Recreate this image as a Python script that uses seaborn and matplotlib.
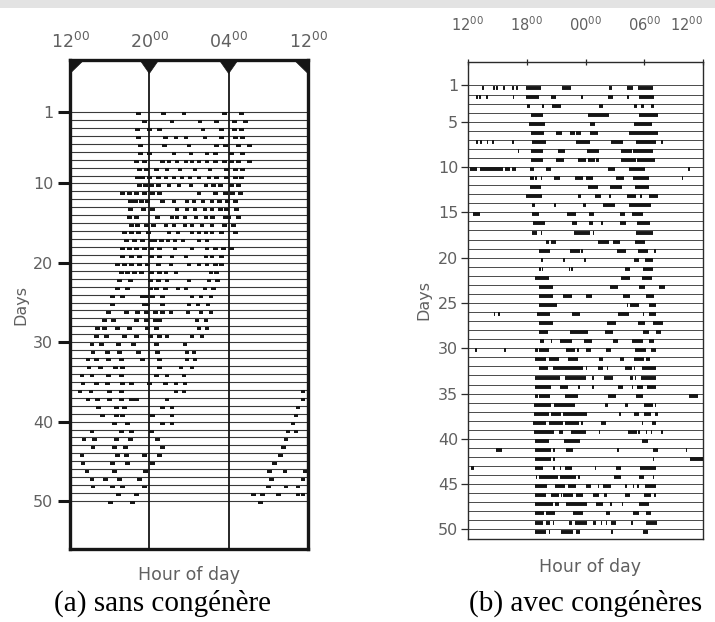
import matplotlib
matplotlib.use("Agg")
import matplotlib.pyplot as plt
from matplotlib.patches import Rectangle, Polygon
import numpy as np
import pandas as pd
import seaborn as sns

# ---------------- data ----------------
# hours are measured from 12:00 (0 = 12:00, 8 = 20:00, 12 = 00:00, 24 = 12:00 next day)
solo_ticks = [0, 8, 16, 24]
solo_tick_labels = ["12", "20", "04", "12"]
solo_day_ticks = [1, 10, 20, 30, 40, 50]

group_ticks = [0, 6, 12, 18, 24]
group_tick_labels = ["12", "18", "00", "06", "12"]
group_day_ticks = [1, 5, 10, 15, 20, 25, 30, 35, 40, 45, 50]

# (a) sans congénère : activity marks per day (centre hour)
solo_rows = [
    [6.9, 9.4, 11.5, 15.6, 17.3],
    [7.5, 10.3, 13.1, 14.8, 16.6, 17.7],
    [6.8, 8.0, 9.0, 13.4, 15.3, 16.6, 17.3],
    [6.9, 9.6, 10.7, 11.7, 13.6, 15.3, 16.7, 17.4],
    [7.1, 9.5, 12.0, 14.8, 15.7, 17.0, 18.1],
    [7.1, 8.0, 10.5, 12.2, 13.8, 14.7, 16.3, 17.4],
    [6.7, 7.5, 9.3, 10.0, 10.8, 11.7, 12.3, 13.0, 13.8, 14.7, 15.6, 16.3, 17.0, 18.1],
    [7.0, 7.7, 8.7, 9.8, 11.1, 12.6, 14.1, 15.8, 16.7, 17.4],
    [6.8, 7.3, 8.0, 8.9, 9.7, 10.5, 11.3, 12.1, 13.0, 14.0, 14.8, 15.8, 16.7, 17.3],
    [7.0, 7.6, 8.2, 8.9, 10.0, 11.0, 12.2, 13.7, 14.5, 15.2, 16.3, 17.0],
    [5.3, 6.0, 6.7, 7.5, 8.3, 9.0, 13.0, 14.7, 15.7, 16.4, 17.2],
    [6.1, 6.6, 7.2, 7.8, 9.3, 10.5, 11.8, 12.5, 13.4, 14.3, 15.1, 15.9, 16.7],
    [6.1, 7.4, 8.3, 10.8, 11.8, 12.6, 13.6, 14.3, 15.2, 15.8, 16.8],
    [6.0, 6.7, 8.8, 10.3, 10.8, 11.6, 12.7, 13.7, 14.4, 15.7, 16.0, 17.0],
    [6.2, 6.8, 7.7, 8.4, 9.7, 10.5, 11.6, 12.3, 13.3, 14.3, 15.6, 16.5],
    [5.5, 6.2, 6.9, 7.9, 10.0, 10.9, 12.3, 13.0, 13.7, 14.3, 15.3, 16.7],
    [5.7, 6.5, 7.3, 8.2, 8.5, 9.2, 9.9, 10.6, 11.4, 13.0, 13.8],
    [5.3, 6.0, 6.7, 7.5, 8.2, 9.0, 10.6, 12.3, 13.8, 14.7, 15.5, 16.3],
    [5.3, 6.2, 7.0, 8.2, 9.0, 10.3, 11.7, 13.7, 14.3, 15.3],
    [4.8, 5.5, 6.2, 7.0, 7.8, 8.9, 10.2, 12.0, 13.0, 13.8, 14.7, 15.3],
    [5.2, 5.8, 6.5, 7.2, 8.2, 9.0, 9.7, 10.7, 14.2, 14.8],
    [5.0, 6.1, 8.1, 8.9, 9.8, 12.0, 14.0, 14.9],
    [4.8, 5.8, 8.1, 8.7, 9.6, 10.9, 11.7, 13.6, 14.5],
    [4.3, 5.3, 7.3, 7.7, 8.3, 9.3, 12.3, 13.2, 14.2],
    [4.3, 7.5, 7.8, 9.3, 12.0, 12.9, 13.9],
    [3.9, 5.7, 6.8, 7.7, 8.6, 9.3, 10.2, 11.9, 13.2, 14.2],
    [3.5, 4.4, 6.7, 7.7, 8.6, 9.0, 12.8, 13.7],
    [2.8, 3.5, 4.8, 6.0, 7.8, 8.7, 13.0, 13.8],
    [2.7, 3.7, 5.5, 6.7, 8.1, 9.0, 9.8, 12.3, 13.3],
    [2.2, 3.2, 4.9, 6.4, 8.7, 11.6],
    [2.3, 3.8, 5.0, 6.9, 8.8, 11.8, 12.5],
    [1.8, 2.7, 3.9, 5.2, 7.3, 9.0, 11.8, 12.6],
    [1.9, 3.1, 4.6, 5.3, 9.0, 11.2, 12.3],
    [1.2, 2.2, 3.9, 5.2, 8.7, 9.8, 11.5],
    [1.3, 2.7, 3.8, 5.3, 6.2, 8.0, 9.6, 10.7, 11.6],
    [1.0, 2.1, 4.0, 5.2, 10.7, 11.5, 23.5],
    [1.8, 2.8, 4.0, 5.2, 6.2, 6.7, 9.8, 23.5],
    [2.9, 4.7, 5.5, 9.3, 10.3, 23.0],
    [3.3, 4.7, 5.3, 8.3, 10.3, 22.8],
    [4.5, 5.8, 9.3, 10.3, 22.5],
    [2.2, 5.2, 6.2, 8.2, 22.0, 22.8],
    [1.4, 2.5, 4.7, 6.1, 8.8, 21.8],
    [2.3, 4.5, 5.6, 9.3, 21.5],
    [1.2, 4.8, 5.7, 7.5, 9.0, 21.2],
    [1.3, 4.3, 5.8, 8.3, 20.6],
    [1.7, 4.5, 7.6, 20.1, 21.7, 23.7],
    [2.2, 3.6, 5.0, 7.0, 20.3, 23.5],
    [2.3, 4.3, 5.3, 7.5, 20.0, 21.8, 23.0],
    [4.9, 6.7, 18.5, 19.4, 21.0, 23.0, 23.5],
    [4.1, 6.3, 19.2],
]

# (b) avec congénères : activity bouts per day (start hour, end hour)
group_rows = [
    [(1.4, 1.6), (2.6, 2.8), (2.9, 3.05), (3.6, 3.8), (4.5, 4.7), (4.9, 5.1), (5.9, 7.5), (9.6, 10.5), (14.4, 14.7), (16.2, 16.8), (17.4, 18.9)],
    [(0.8, 1.0), (1.1, 1.3), (1.85, 2.0), (4.55, 4.7), (5.95, 7.3), (8.5, 9.0), (11.5, 11.7), (14.3, 14.8), (16.2, 16.4), (17.5, 19.0)],
    [(6.0, 6.3), (7.6, 7.75), (8.6, 9.5), (13.4, 13.8), (17.0, 17.3), (17.7, 18.0), (18.7, 19.0)],
    [(6.4, 7.7), (12.3, 14.4), (17.5, 19.4)],
    [(6.2, 7.9), (12.5, 13.0), (17.0, 18.8)],
    [(6.4, 7.8), (9.0, 9.6), (10.4, 10.9), (11.0, 11.5), (12.5, 13.3), (16.4, 19.4)],
    [(0.8, 1.0), (1.2, 1.4), (1.9, 2.05), (2.5, 2.65), (4.5, 4.7), (6.5, 8.0), (11.0, 12.5), (14.6, 15.8), (17.2, 19.2), (19.7, 19.9)],
    [(5.1, 5.25), (6.4, 7.7), (9.2, 9.9), (12.2, 13.4), (15.6, 16.7), (16.8, 18.9)],
    [(6.4, 7.7), (9.0, 9.8), (11.2, 12.1), (12.3, 13.0), (13.1, 13.4), (15.6, 17.2), (17.3, 19.1)],
    [(0.25, 0.9), (1.25, 3.6), (3.75, 4.3), (4.5, 4.9), (6.3, 6.7), (8.0, 8.5), (14.3, 15.0), (16.4, 18.1), (22.5, 22.65)],
    [(6.3, 6.7), (6.8, 7.0), (7.45, 7.6), (8.8, 9.4), (10.9, 11.7), (12.1, 12.8), (15.1, 15.9), (16.9, 18.5), (21.85, 22.0)],
    [(6.3, 7.5), (12.3, 13.3), (14.5, 15.7), (17.1, 18.5)],
    [(5.9, 7.6), (11.2, 11.5), (13.0, 13.6), (14.4, 14.6), (16.2, 17.2), (17.6, 17.8), (18.5, 19.4)],
    [(6.5, 6.8), (8.8, 8.95), (11.7, 12.1), (13.8, 15.0), (16.4, 18.7)],
    [(0.5, 1.25), (6.5, 7.3), (10.1, 11.0), (12.4, 12.9), (15.5, 16.0), (16.7, 17.9)],
    [(6.6, 7.9), (10.6, 11.1), (12.4, 12.8), (13.6, 13.8), (15.5, 16.1), (17.3, 18.6)],
    [(6.5, 7.0), (7.45, 7.6), (10.8, 12.5), (12.75, 12.9), (17.2, 18.9)],
    [(8.0, 8.3), (8.5, 9.0), (13.3, 14.4), (14.8, 15.5), (17.1, 18.1)],
    [(7.2, 8.4), (10.4, 11.4), (11.55, 11.7), (15.2, 16.1), (17.4, 18.4), (19.0, 19.15)],
    [(7.5, 7.7), (9.7, 9.9), (11.8, 12.0), (17.0, 17.5), (18.1, 18.9)],
    [(7.25, 7.45), (7.55, 7.7), (10.3, 10.45), (10.55, 10.7), (16.0, 16.5), (17.9, 18.9)],
    [(6.8, 8.3), (15.6, 16.5), (17.8, 18.8)],
    [(7.25, 8.7), (14.5, 15.3), (17.5, 18.1), (19.5, 20.1)],
    [(7.25, 8.7), (9.7, 10.6), (12.1, 12.7), (15.8, 16.5), (18.2, 19.0)],
    [(7.25, 9.1), (16.2, 16.35), (16.5, 17.5), (18.5, 19.2)],
    [(2.65, 2.8), (3.1, 3.25), (7.0, 8.4), (10.6, 11.4), (15.3, 16.4), (17.85, 18.0), (18.5, 19.2)],
    [(7.3, 8.7), (14.2, 15.1), (17.4, 18.1), (18.9, 19.9)],
    [(7.3, 8.2), (10.4, 12.3), (14.0, 14.8), (17.9, 18.5), (19.2, 19.7)],
    [(7.4, 7.8), (8.45, 8.6), (9.4, 10.6), (11.8, 12.7), (14.8, 15.3), (16.7, 17.9), (18.5, 19.0)],
    [(0.75, 0.95), (3.7, 3.85), (6.8, 7.1), (7.3, 8.3), (10.0, 10.9), (11.15, 11.3), (12.1, 12.6), (14.1, 14.6), (17.1, 18.2), (18.7, 19.2)],
    [(6.8, 8.0), (8.3, 9.3), (10.2, 11.2), (13.4, 13.8), (15.5, 15.9), (17.0, 18.0), (18.2, 18.6)],
    [(7.25, 8.2), (8.7, 11.7), (12.0, 12.15), (13.3, 13.8), (14.15, 14.3), (16.0, 16.7), (16.95, 17.1), (17.8, 19.2)],
    [(6.8, 9.4), (9.9, 12.0), (12.7, 12.85), (13.9, 14.8), (16.5, 16.8), (17.05, 17.2), (17.7, 19.15)],
    [(6.8, 8.5), (9.35, 10.2), (11.25, 11.4), (12.7, 12.85), (15.3, 15.8), (16.75, 16.9), (17.25, 17.9), (18.3, 19.15)],
    [(6.8, 7.1), (7.3, 8.4), (9.9, 11.2), (14.3, 15.1), (17.2, 17.9), (22.6, 23.5)],
    [(6.7, 8.5), (8.75, 10.9), (13.95, 14.3), (16.0, 16.3), (18.0, 18.9), (19.1, 19.25)],
    [(6.7, 8.3), (8.5, 9.5), (9.7, 12.2), (15.45, 15.6), (17.0, 17.45), (18.0, 18.7), (19.05, 19.4)],
    [(6.6, 8.0), (8.3, 9.7), (9.9, 11.3), (11.55, 11.7), (13.6, 14.1), (17.75, 17.9), (18.8, 19.2)],
    [(6.7, 8.8), (9.3, 9.7), (10.5, 12.1), (13.35, 13.5), (16.3, 17.25), (17.4, 17.55), (18.15, 18.3), (18.65, 18.8), (19.75, 19.9)],
    [(6.8, 8.3), (9.8, 11.4), (17.75, 18.4)],
    [(2.9, 3.5), (6.8, 8.5), (8.7, 8.85), (10.0, 10.7), (15.25, 15.45), (18.9, 19.4), (22.25, 22.4)],
    [(6.8, 8.5), (8.7, 8.85), (18.85, 19.0), (22.7, 24.0)],
    [(0.3, 0.6), (6.8, 7.7), (8.7, 8.85), (9.35, 9.5), (9.9, 10.6), (12.95, 13.1), (15.1, 15.6), (17.6, 19.15)],
    [(6.9, 7.05), (7.25, 9.2), (9.35, 11.05), (11.25, 11.4), (14.95, 15.65), (17.5, 18.0), (18.85, 19.0)],
    [(6.8, 8.1), (8.85, 9.9), (10.2, 11.0), (12.1, 12.6), (13.25, 13.4), (13.8, 14.6), (16.05, 16.2), (16.8, 16.95), (17.3, 17.45), (18.1, 19.15)],
    [(6.8, 8.0), (8.5, 9.3), (9.45, 9.6), (9.7, 10.7), (11.0, 11.7), (12.75, 13.4), (13.85, 14.2), (16.0, 16.5), (18.0, 18.7), (19.0, 19.15)],
    [(6.8, 8.7), (8.85, 9.3), (10.0, 12.2), (13.1, 13.8), (14.55, 14.7), (15.7, 15.85), (17.5, 18.5)],
    [(6.8, 7.8), (8.0, 8.85), (10.7, 11.7), (14.1, 14.5), (16.8, 17.5), (18.2, 18.7)],
    [(6.8, 7.7), (8.0, 8.4), (8.65, 8.8), (10.35, 10.6), (10.9, 12.2), (12.75, 13.1), (13.55, 13.7), (14.05, 14.2), (14.6, 15.1), (16.65, 16.8), (18.2, 19.3)],
    [(6.8, 8.0), (8.25, 8.4), (9.5, 10.7), (11.0, 11.4), (14.65, 14.8), (17.85, 18.4)],
]

# ---------------- tidy tables ----------------
solo_df = pd.DataFrame(
    [(d + 1, h) for d, row in enumerate(solo_rows) for h in row], columns=["day", "hour"]
)
group_df = pd.DataFrame(
    [(d + 1, s, e) for d, row in enumerate(group_rows) for s, e in row],
    columns=["day", "start", "end"],
)

# ---------------- style ----------------
sns.set_theme(style="white")
plt.rcParams["font.family"] = ["DejaVu Sans"]
plt.rcParams["mathtext.fontset"] = "dejavusans"
GREY_TXT = "#606060"
INK = "#161616"

W, H = 715, 622
fig = plt.figure(figsize=(W / 100, H / 100), dpi=100)
fig.patch.set_facecolor("white")
fig.patches.append(Rectangle((0, 1 - 8 / H), 1, 8 / H, transform=fig.transFigure,
                             facecolor="#e3e3e3", edgecolor="none", zorder=0))


def fx(px):
    return px / W


def fy(py):
    return 1 - py / H


# ---------------- (a) left panel ----------------
axL = fig.add_axes([fx(70), fy(549), fx(308) - fx(70), fy(60) - fy(549)])
axL.set_xlim(0, 24)
axL.set_ylim(56.05, -5.55)
axL.set_facecolor("white")
for sp in axL.spines.values():
    sp.set_linewidth(2.4)
    sp.set_color(INK)
    sp.set_visible(True)

axL.hlines(np.arange(1, len(solo_rows) + 1), 0, 24, color="#3a3a3a", lw=0.8, zorder=1)
axL.vlines(solo_ticks[1:-1], -5.55, 56.05, color=INK, lw=1.3, zorder=2)

rect_marker = [(-1, -0.65), (1, -0.65), (1, 0.65), (-1, 0.65), (-1, -0.65)]
solo_df["ymark"] = solo_df["day"] + 0.24
sns.scatterplot(data=solo_df, x="hour", y="ymark", marker=rect_marker, s=11,
                color=INK, edgecolor="none", linewidth=0, ax=axL, zorder=3, legend=False)

# triangular markers hanging from the top frame
top = -5.55
for h in solo_ticks:
    if h == 0:
        pts = [(0, top), (1.4, top), (0, top + 1.7)]
    elif h == 24:
        pts = [(24, top), (22.6, top), (24, top + 1.7)]
    else:
        pts = [(h - 0.95, top), (h + 0.95, top), (h, top + 1.7)]
    axL.add_patch(Polygon(pts, closed=True, facecolor=INK, edgecolor=INK, lw=0.5, zorder=4))

axL.xaxis.tick_top()
axL.set_xticks(solo_ticks)
axL.set_xticklabels([rf"${t}^{{00}}$" for t in solo_tick_labels])
axL.tick_params(axis="x", which="both", length=0, pad=6, labelsize=12.5, labelcolor=GREY_TXT,
                top=True, bottom=False, labeltop=True, labelbottom=False)
axL.set_yticks(solo_day_ticks)
axL.set_yticklabels([str(d) for d in solo_day_ticks])
axL.tick_params(axis="y", which="both", left=True, direction="out", length=9, width=2.2,
                color=INK, pad=3, labelsize=11.5, labelcolor=GREY_TXT)
axL.set_xlabel("")
axL.set_ylabel("")

# ---------------- (b) right panel ----------------
axR = fig.add_axes([fx(468), fy(539), fx(703) - fx(468), fy(62) - fy(539)])
axR.set_xlim(0, 24)
axR.set_ylim(51.05, -1.59)
axR.set_facecolor("white")
for sp in axR.spines.values():
    sp.set_linewidth(1.0)
    sp.set_color("#2a2a2a")
    sp.set_visible(True)

axR.hlines(np.arange(1, len(group_rows) + 1), 0, 24, color="#4a4a4a", lw=0.7, zorder=1)
axR.hlines(group_df["day"] + 0.23, group_df["start"], group_df["end"],
           color=INK, lw=2.8, zorder=3)

axR.xaxis.tick_top()
axR.set_xticks(group_ticks)
axR.set_xticklabels([rf"${t}^{{00}}$" for t in group_tick_labels])
axR.tick_params(axis="x", which="both", direction="inout", length=5, width=0.9, color="#2a2a2a",
                pad=18, labelsize=10.5, labelcolor=GREY_TXT,
                top=True, bottom=False, labeltop=True, labelbottom=False)
# keep the last label inside the picture
last = axR.get_xticklabels()[-1]
last.set_horizontalalignment("right")
last.set_x(24)
axR.set_yticks(group_day_ticks)
axR.set_yticklabels([str(d) for d in group_day_ticks])
axR.tick_params(axis="y", which="both", left=True, direction="out", length=5, width=0.9,
                color="#2a2a2a", pad=2, labelsize=11.5, labelcolor=GREY_TXT)
axR.set_xlabel("")
axR.set_ylabel("")

# ---------------- labels ----------------
fig.text(fx(21), fy(305), "Days", rotation=90, ha="center", va="center",
         color=GREY_TXT, fontsize=11.5)
fig.text(fx(424), fy(300), "Days", rotation=90, ha="center", va="center",
         color=GREY_TXT, fontsize=11.5)
fig.text(fx(189), fy(575), "Hour of day", ha="center", va="center",
         color=GREY_TXT, fontsize=12.5)
fig.text(fx(590), fy(567), "Hour of day", ha="center", va="center",
         color=GREY_TXT, fontsize=12.5)
fig.text(fx(163), fy(603), "(a) sans congénère", ha="center", va="center",
         color="black", fontsize=21, family=["Liberation Serif", "DejaVu Serif"])
fig.text(fx(586), fy(603), "(b) avec congénères", ha="center", va="center",
         color="black", fontsize=21, family=["Liberation Serif", "DejaVu Serif"])

fig.savefig("out.png", dpi=100, facecolor="white")
